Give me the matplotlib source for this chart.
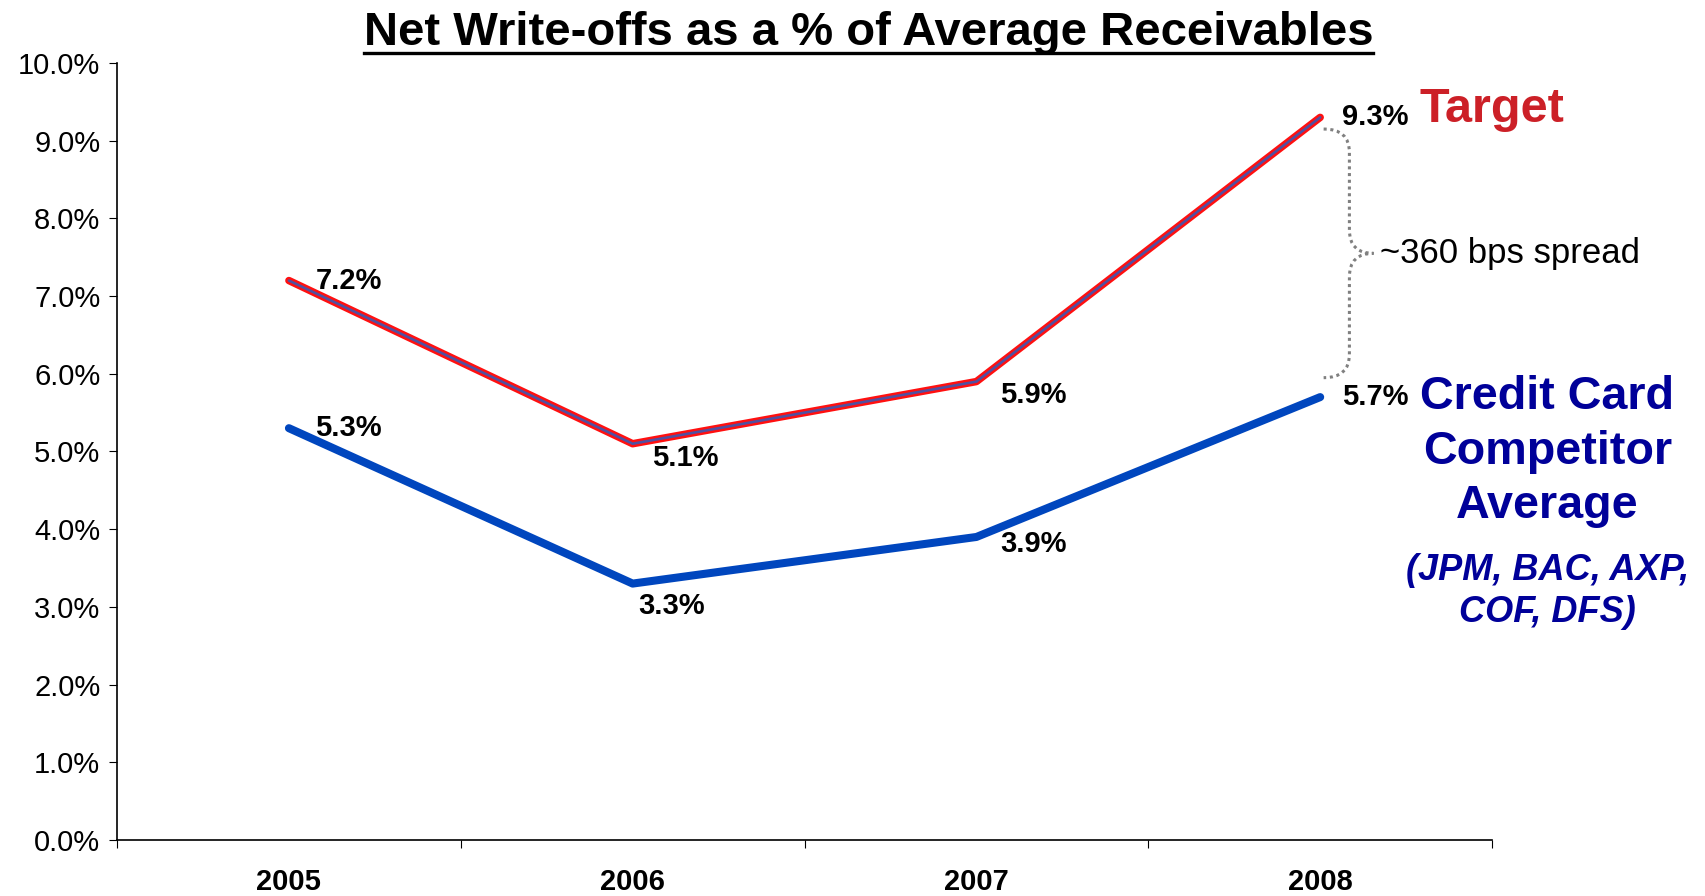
import matplotlib
matplotlib.use("Agg")
import matplotlib.pyplot as plt
from matplotlib.path import Path
from matplotlib.patches import PathPatch
from matplotlib.lines import Line2D
from matplotlib.ticker import FuncFormatter

plt.rcParams['font.family'] = ['Liberation Sans', 'DejaVu Sans']

# ---- dati ----
anni = ['2005', '2006', '2007', '2008']
target = [7.2, 5.1, 5.9, 9.3]
competitor = [5.3, 3.3, 3.9, 5.7]

titolo = "Net Write-offs as a % of Average Receivables"
etichetta_spread = "~360 bps spread"

# offset (pt) delle etichette dei valori
off_target = [(19, 0), (14, -10), (17, -10), (16, 0)]
off_comp = [(19, 0), (4, -16), (17, -5), (16, 0)]

fig = plt.figure(figsize=(17.06, 8.96), dpi=100)
ax = fig.add_axes([0.0686, 0.0625, 0.806, 0.8672])

x = list(range(len(anni)))
ax.plot(x, competitor, color='#0046BE', lw=5.8, solid_capstyle='round', zorder=3)
ax.plot(x, target, color='#FF1010', lw=5.4, solid_capstyle='round', zorder=4)
ax.plot(x, target, color='#5050A0', lw=1.9, solid_capstyle='round', zorder=5)

for i in x:
    ax.annotate("%.1f%%" % target[i], (i, target[i]), xytext=off_target[i],
                textcoords='offset points', ha='left', va='center',
                fontsize=21, fontweight='bold', zorder=6)
    ax.annotate("%.1f%%" % competitor[i], (i, competitor[i]), xytext=off_comp[i],
                textcoords='offset points', ha='left', va='center',
                fontsize=21, fontweight='bold', zorder=6)

ax.set_xlim(-0.5, len(anni) - 0.5)
ax.set_ylim(0, 10)
ax.set_yticks(range(0, 11))
ax.yaxis.set_major_formatter(FuncFormatter(lambda v, p: "%.1f%%" % v))
ax.set_xticks([i + 0.5 for i in range(-1, len(anni))])
ax.set_xticklabels([])
ax.set_xticks(x, minor=True)
ax.set_xticklabels(anni, minor=True, fontsize=21, fontweight='bold')
ax.tick_params(axis='x', which='minor', length=0, pad=20)
ax.tick_params(axis='x', which='major', length=6, direction='out')
ax.tick_params(axis='y', length=6, labelsize=21, pad=6)
for s in ['top', 'right']:
    ax.spines[s].set_visible(False)
for s in ['left', 'bottom']:
    ax.spines[s].set_linewidth(1.2)

# ---- parentesi graffa tratteggiata ----
xb = x[-1]
y_top = target[-1] - 0.15
y_bot = competitor[-1] + 0.25
y_mid = (y_top + y_bot) / 2
x0, x1, x2 = xb + 0.01, xb + 0.085, xb + 0.155
r = 0.3
verts = [(x0, y_top), (x1, y_top), (x1, y_top - r), (x1, y_top - r),
         (x1, y_mid + r), (x1, y_mid), (x2, y_mid),
         (x1, y_mid), (x1, y_mid - r),
         (x1, y_bot + r), (x1, y_bot + r), (x1, y_bot), (x0, y_bot)]
codes = [Path.MOVETO, Path.CURVE3, Path.CURVE3, Path.LINETO,
         Path.LINETO, Path.CURVE3, Path.CURVE3,
         Path.CURVE3, Path.CURVE3,
         Path.LINETO, Path.LINETO, Path.CURVE3, Path.CURVE3]
ax.add_patch(PathPatch(Path(verts, codes), fill=False, edgecolor='#808080',
                       lw=2.2, linestyle=(0, (1, 1.2)), clip_on=False))
ax.annotate(etichetta_spread, (x2, y_mid), xytext=(5, 0), textcoords='offset points',
            ha='left', va='center', fontsize=25, annotation_clip=False)

# ---- etichette delle serie ----
fig.text(0.832, 0.878, "Target", color='#CC2027', fontsize=35, fontweight='bold',
         ha='left', va='center')
fig.text(0.907, 0.496, "Credit Card\nCompetitor\nAverage", color='#000099',
         fontsize=33.7, fontweight='bold', ha='center', va='center', linespacing=1.3)
fig.text(0.907, 0.340, "(JPM, BAC, AXP,\nCOF, DFS)", color='#000099',
         fontsize=26, fontweight='bold', fontstyle='italic', ha='center', va='center',
         linespacing=1.28)

# ---- titolo sottolineato ----
t = fig.text(0.509, 0.963, titolo, fontsize=34, fontweight='bold', ha='center', va='center')
fig.canvas.draw()
bb = t.get_window_extent().transformed(fig.transFigure.inverted())
fig.add_artist(Line2D([bb.x0, bb.x1], [bb.y0 + 0.002, bb.y0 + 0.002],
                      transform=fig.transFigure, color='black', lw=2.4))

fig.savefig("out.png", dpi=100)
